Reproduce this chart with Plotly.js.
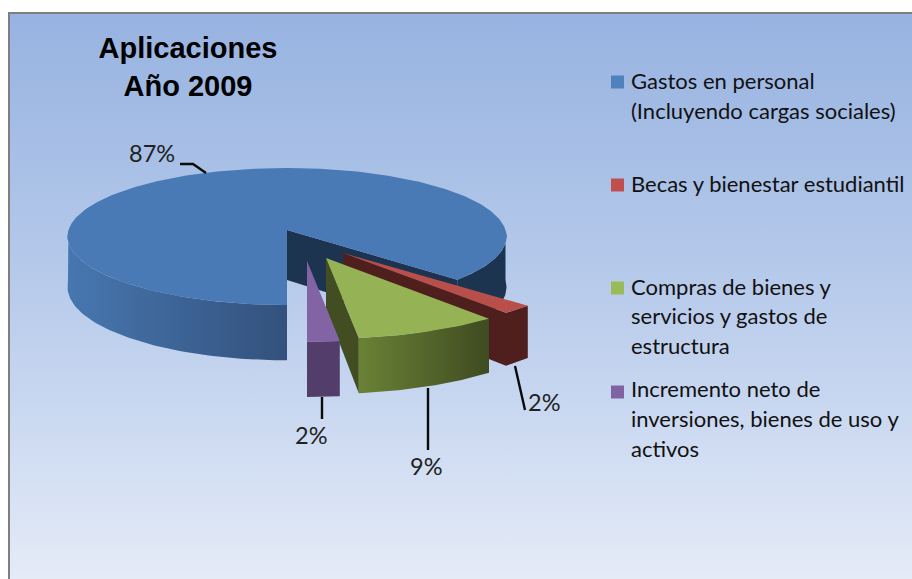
<!DOCTYPE html>
<html>
<head>
<meta charset="utf-8">
<script src="https://cdn.plot.ly/plotly-3.0.1.min.js"></script>
<style>
html,body{margin:0;padding:0;width:912px;height:579px;background:#fff;overflow:hidden}
#frame{position:absolute;left:8px;top:12px;width:902px;height:565px;border-left:2px solid #7f7f7f;border-top:2px solid #7f7f7f;
background:linear-gradient(180deg,#97b3e1 0%,#b5c9ea 45%,#cbd9f1 72%,#e5ebf7 100%)}
#chart{position:absolute;left:0;top:0;width:912px;height:579px}
</style>
</head>
<body>
<div id="frame"></div>
<div id="chart"></div>
<script>
// ---- data ----
const categories = ['Gastos en personal (Incluyendo cargas sociales)','Becas y bienestar estudiantil','Compras de bienes y servicios y gastos de estructura','Incremento neto de inversiones, bienes de uso y activos'];
const values = [87, 2, 9, 2];
const titleText = 'Aplicaciones<br>Año 2009';
const legendLines = [
  ['Gastos en personal','(Incluyendo cargas sociales)'],
  ['Becas y bienestar estudiantil'],
  ['Compras de bienes y','servicios y gastos de','estructura'],
  ['Incremento neto de','inversiones, bienes de uso y','activos']
];
// ---- presentation ----
const topColors = ['#4a7ab5','#b94f4a','#95b355','#8264a4'];
const FONT = 'Lato, "Open Sans", sans-serif';
const startDeg = 180;           // first slice starts at the bottom, runs clockwise
const K = 0.095;                // perspective of the tilted disc
const slices = [
  {ax:287, ay:230, r:218.5, a:67.9, d:50},
  {ax:343, ay:253, r:237,   a:72,   d:49},
  {ax:326, ay:258, r:237,   a:73,   d:50},
  {ax:307, ay:261, r:237,   a:73,   d:50}
];
const legendY = [[80,110],[183],[286,315,345],[388,418,448]];
const legendMarkY = [82,185,288,392];
const labelPos = [[152,153],[544,402],[426,466],[311,435]];
const leaders = [
  [[180,193,206],[164,164,173]],
  [[515,525],[366,410]],
  [[428,428],[388,450]],
  [[322,322],[397,419]]
];

const total = values.reduce((p,c)=>p+c,0);
let acc = startDeg;
const spans = values.map(v=>{const s=acc; acc+=v/total*360; return [s,acc];});

function pt(s,deg){
  const t=deg*Math.PI/180, X=Math.sin(t), Y=-Math.cos(t), w=1-K*Y;
  return {x:s.ax+s.r*X/w, y:s.ay+s.a*Y/w, d:s.d/w};
}
function arc(s,a,b,drop){
  const n=Math.max(2,Math.ceil(Math.abs(b-a))), o=[];
  for(let i=0;i<=n;i++){const p=pt(s,a+(b-a)*i/n); o.push([p.x,p.y+(drop?p.d:0)]);}
  return o;
}
function poly(points,color,grad){
  const xs=points.map(p=>p[0]).concat(points[0][0]), ys=points.map(p=>p[1]).concat(points[0][1]);
  const tr={type:'scatter',mode:'lines',x:xs,y:ys,fill:'toself',line:{width:0,color:color},fillcolor:color,hoverinfo:'skip',showlegend:false};
  if(grad) tr.fillgradient={type:'horizontal',colorscale:[[0,grad[0]],[1,grad[1]]]};
  return tr;
}
function wall(s,a,b,color,grad){ return poly(arc(s,a,b,false).concat(arc(s,b,a,true)),color,grad); }
function face(s,deg,color){
  const p=pt(s,deg), front=s.d/(1-K*0);
  return poly([[s.ax,s.ay],[p.x,p.y],[p.x,p.y+p.d],[s.ax,s.ay+front]],color);
}
function top_(s,a,b,color){ return poly([[s.ax,s.ay]].concat(arc(s,a,b,false)),color); }

const traces=[];
// blue
let s=slices[0], sp=spans[0];
traces.push(face(s,sp[1]-360,'#1d3450'));
traces.push(wall(s,90,sp[1]-360,'#1d3450'));
traces.push(wall(s,sp[0],270,'#3f6a9f',['#4777b0','#33517c']));
traces.push(top_(s,sp[0],sp[1],topColors[0]));
// red
s=slices[1]; sp=spans[1];
traces.push(face(s,sp[1],'#4f1f1e'));
traces.push(wall(s,sp[0],sp[1],'#4f1f1e'));
traces.push(top_(s,sp[0],sp[1],topColors[1]));
// green
s=slices[2]; sp=spans[2];
traces.push(face(s,sp[1],'#424d22'));
traces.push(wall(s,sp[0],sp[1],'#55682b',['#6a8236','#3f4b21']));
traces.push(top_(s,sp[0],sp[1],topColors[2]));
// purple
s=slices[3]; sp=spans[3];
traces.push(wall(s,sp[0],sp[1],'#523d6b'));
traces.push(top_(s,sp[0],sp[1],topColors[3]));

// leader lines
leaders.forEach(l=>traces.push({type:'scatter',mode:'lines',x:l[0],y:l[1],line:{color:'#0a0a0a',width:2.4},hoverinfo:'skip',showlegend:false}));
// legend keys
traces.push({type:'scatter',mode:'markers',x:legendMarkY.map(()=>617.5),y:legendMarkY,text:categories,hoverinfo:'text',
  marker:{symbol:'square',size:13,color:['#4f81bd','#c0504d','#9bbb59','#8064a2']},showlegend:false});

const annotations=[];
values.forEach((v,i)=>annotations.push({x:labelPos[i][0],y:labelPos[i][1],text:v+'%',showarrow:false,xref:'x',yref:'y',xanchor:'center',yanchor:'middle',font:{family:FONT,size:23.5,color:'#222'}}));
legendLines.forEach((ls,i)=>ls.forEach((t,j)=>annotations.push({x:628.5,y:legendY[i][j],text:t,showarrow:false,xref:'x',yref:'y',xanchor:'left',yanchor:'middle',font:{family:FONT,size:22,color:'#111'}})));

Plotly.newPlot('chart',traces,{
  width:912,height:579,margin:{l:0,r:0,t:0,b:0},
  paper_bgcolor:'rgba(0,0,0,0)',plot_bgcolor:'rgba(0,0,0,0)',
  title:{text:titleText,x:188/912,xanchor:'center',y:1-58/579,yanchor:'top',font:{family:'"Liberation Sans",Arial,sans-serif',size:29,color:'#000',weight:700}},
  xaxis:{range:[0,912],visible:false,fixedrange:true},
  yaxis:{range:[579,0],visible:false,fixedrange:true},
  annotations:annotations,showlegend:false
},{displayModeBar:false,staticPlot:true});
</script>
</body>
</html>
